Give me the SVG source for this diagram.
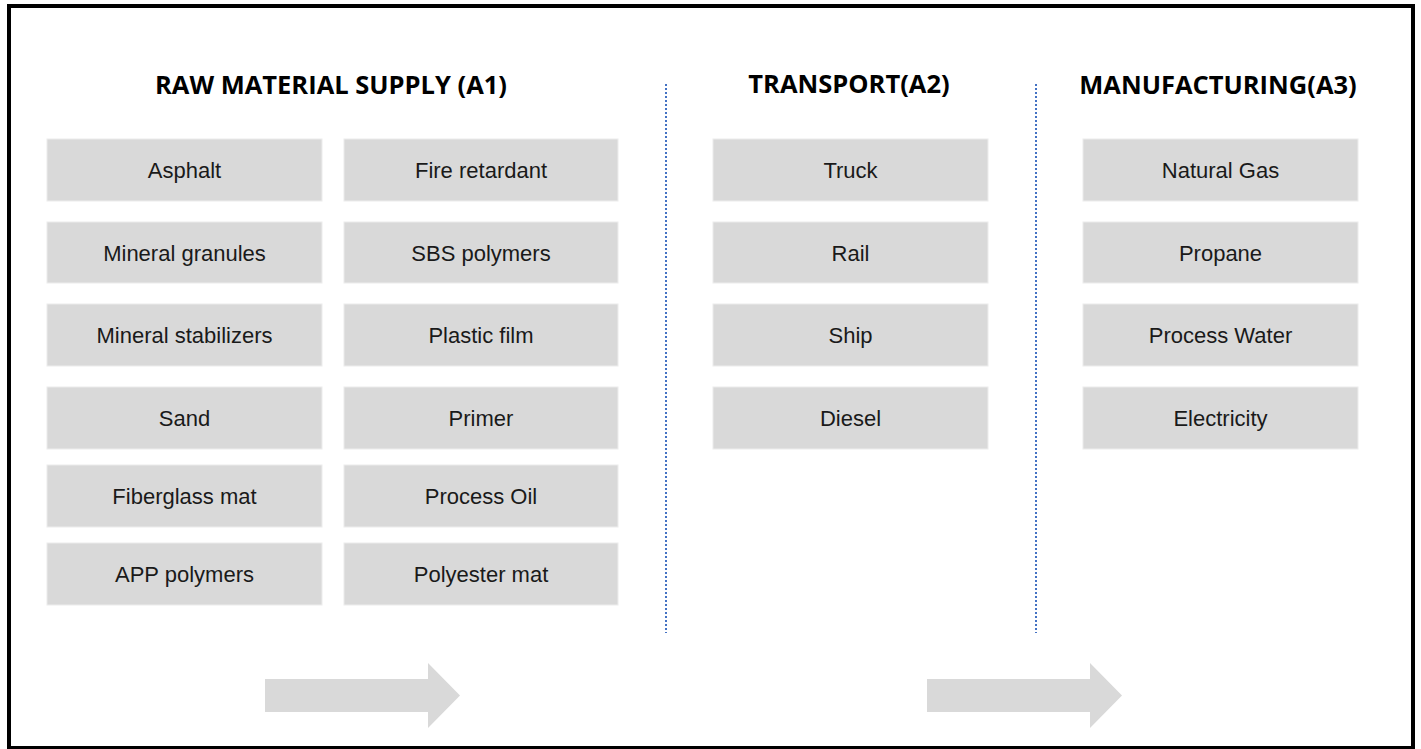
<svg xmlns="http://www.w3.org/2000/svg" width="1421" height="749" viewBox="0 0 1421 749">
<style>
.box{fill:#D9D9D9;stroke:#ECECEC;stroke-width:1}
.lbl{font-family:"Liberation Sans",Arial,sans-serif;font-size:22px;fill:#1a1a1a;text-anchor:middle}
.ttl{font-family:"Open Sans","Liberation Sans",sans-serif;font-weight:bold;font-size:25.5px;fill:#000;text-anchor:middle}
.div{stroke:#4472C4;stroke-width:2;stroke-dasharray:2 2;fill:none}
.arr{fill:#D9D9D9}
</style>
<rect x="0" y="0" width="1421" height="749" fill="#fff"/>
<rect x="9" y="6" width="1404" height="742" fill="#fff" stroke="#000" stroke-width="4"/>
<g id="titles">
<text class="ttl" x="331" y="94">RAW MATERIAL SUPPLY (A1)</text>
<text class="ttl" x="849" y="93">TRANSPORT(A2)</text>
<text class="ttl" x="1218" y="94">MANUFACTURING(A3)</text>
</g>
<g id="dividers">
<line class="div" x1="666" y1="84" x2="666" y2="633"/>
<line class="div" x1="1036" y1="84" x2="1036" y2="633"/>
</g>
<g id="n-asphalt"><rect class="box" x="47" y="139" width="275" height="62"/><text class="lbl" x="184.5" y="178">Asphalt</text></g>
<g id="n-mineral-granules"><rect class="box" x="47" y="222" width="275" height="61"/><text class="lbl" x="184.5" y="260.5">Mineral granules</text></g>
<g id="n-mineral-stabilizers"><rect class="box" x="47" y="304" width="275" height="62"/><text class="lbl" x="184.5" y="343">Mineral stabilizers</text></g>
<g id="n-sand"><rect class="box" x="47" y="387" width="275" height="62"/><text class="lbl" x="184.5" y="426">Sand</text></g>
<g id="n-fiberglass"><rect class="box" x="47" y="465" width="275" height="62"/><text class="lbl" x="184.5" y="504">Fiberglass mat</text></g>
<g id="n-app"><rect class="box" x="47" y="543" width="275" height="62"/><text class="lbl" x="184.5" y="582">APP polymers</text></g>
<g id="n-fire"><rect class="box" x="344" y="139" width="274" height="62"/><text class="lbl" x="481" y="178">Fire retardant</text></g>
<g id="n-sbs"><rect class="box" x="344" y="222" width="274" height="61"/><text class="lbl" x="481" y="260.5">SBS polymers</text></g>
<g id="n-plastic"><rect class="box" x="344" y="304" width="274" height="62"/><text class="lbl" x="481" y="343">Plastic film</text></g>
<g id="n-primer"><rect class="box" x="344" y="387" width="274" height="62"/><text class="lbl" x="481" y="426">Primer</text></g>
<g id="n-process-oil"><rect class="box" x="344" y="465" width="274" height="62"/><text class="lbl" x="481" y="504">Process Oil</text></g>
<g id="n-polyester"><rect class="box" x="344" y="543" width="274" height="62"/><text class="lbl" x="481" y="582">Polyester mat</text></g>
<g id="n-truck"><rect class="box" x="713" y="139" width="275" height="62"/><text class="lbl" x="850.5" y="178">Truck</text></g>
<g id="n-rail"><rect class="box" x="713" y="222" width="275" height="61"/><text class="lbl" x="850.5" y="260.5">Rail</text></g>
<g id="n-ship"><rect class="box" x="713" y="304" width="275" height="62"/><text class="lbl" x="850.5" y="343">Ship</text></g>
<g id="n-diesel"><rect class="box" x="713" y="387" width="275" height="62"/><text class="lbl" x="850.5" y="426">Diesel</text></g>
<g id="n-natural-gas"><rect class="box" x="1083" y="139" width="275" height="62"/><text class="lbl" x="1220.5" y="178">Natural Gas</text></g>
<g id="n-propane"><rect class="box" x="1083" y="222" width="275" height="61"/><text class="lbl" x="1220.5" y="260.5">Propane</text></g>
<g id="n-process-water"><rect class="box" x="1083" y="304" width="275" height="62"/><text class="lbl" x="1220.5" y="343">Process Water</text></g>
<g id="n-electricity"><rect class="box" x="1083" y="387" width="275" height="62"/><text class="lbl" x="1220.5" y="426">Electricity</text></g>
<g id="connectors">
<polygon class="arr" points="265,679 428,679 428,663 460,695.5 428,728 428,712 265,712"/>
<polygon class="arr" points="927,679 1090,679 1090,663 1122,695.5 1090,728 1090,712 927,712"/>
</g>
</svg>
